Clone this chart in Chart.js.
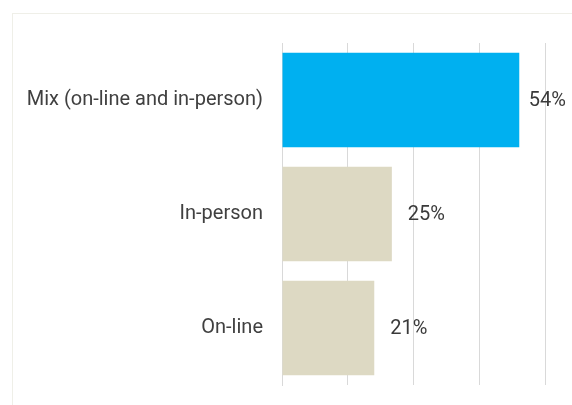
<!DOCTYPE html>
<html>
<head>
<meta charset="utf-8">
<script src="https://cdn.jsdelivr.net/npm/chart.js@4/dist/chart.umd.min.js"></script>
<style>
  html, body { margin: 0; padding: 0; background: #fff; overflow: hidden; }
  #wrap { position: relative; width: 572px; height: 405px; }
  .panel { position: absolute; left: 12px; top: 13px; width: 700px; height: 500px; border: 1px solid #efefe8; box-sizing: border-box; }
  canvas { position: absolute; left: 0; top: 0; }
</style>
</head>
<body>
<div id="wrap">
  <div class="panel"></div>
  <canvas id="chart" width="572" height="405"></canvas>
</div>
<script>
// categories and shares (%)
const categories = ['Mix (on-line and in-person)', 'In-person', 'On-line'];
const shares = [54, 25, 21];
const barColors = ['#00b0f0', '#ddd9c3', '#ddd9c3'];

const FONT = "Roboto, 'Noto Sans', sans-serif";

// value labels at the end of each bar
const valueLabels = {
  id: 'valueLabels',
  afterDatasetsDraw(chart) {
    const { ctx, chartArea } = chart;
    const meta = chart.getDatasetMeta(0);
    ctx.save();
    ctx.font = '20px ' + FONT;
    ctx.fillStyle = '#3a3a3a';
    ctx.textBaseline = 'middle';
    meta.data.forEach((bar, i) => {
      const txt = shares[i] + '%';
      const w = ctx.measureText(txt).width;
      let x = bar.x + 16;
      if (x + w > chartArea.right - 6) x = chartArea.right - 6 - w;
      ctx.fillText(txt, x, bar.y + 1);
    });
    ctx.restore();
  }
};

new Chart(document.getElementById('chart'), {
  type: 'bar',
  data: {
    labels: categories,
    datasets: [{
      data: shares,
      backgroundColor: barColors,
      borderWidth: 0,
      categoryPercentage: 0.83,
      barPercentage: 1
    }]
  },
  options: {
    indexAxis: 'y',
    responsive: false,
    animation: false,
    layout: { padding: { top: 43, bottom: 20, left: 0, right: 0 } },
    plugins: { legend: { display: false }, tooltip: { enabled: false } },
    scales: {
      x: {
        min: 0, max: 66,
        afterFit(scale) { scale.height = 0; },
        ticks: { display: false, stepSize: 15 },
        grid: {
          drawTicks: false,
          color: c => (c.tick && c.tick.value % 15 === 0) ? '#d9d9d9' : 'rgba(0,0,0,0)',
          lineWidth: 1
        },
        border: { display: false }
      },
      y: {
        afterFit(scale) {
          scale.width = 282;
          scale.paddingTop = 0;
          scale.paddingBottom = 0;
        },
        ticks: { color: '#404040', font: { family: FONT, size: 20 }, padding: 19 },
        grid: { display: false, drawTicks: false },
        border: { display: true, color: '#d9d9d9' }
      }
    }
  },
  plugins: [valueLabels]
});
</script>
</body>
</html>
